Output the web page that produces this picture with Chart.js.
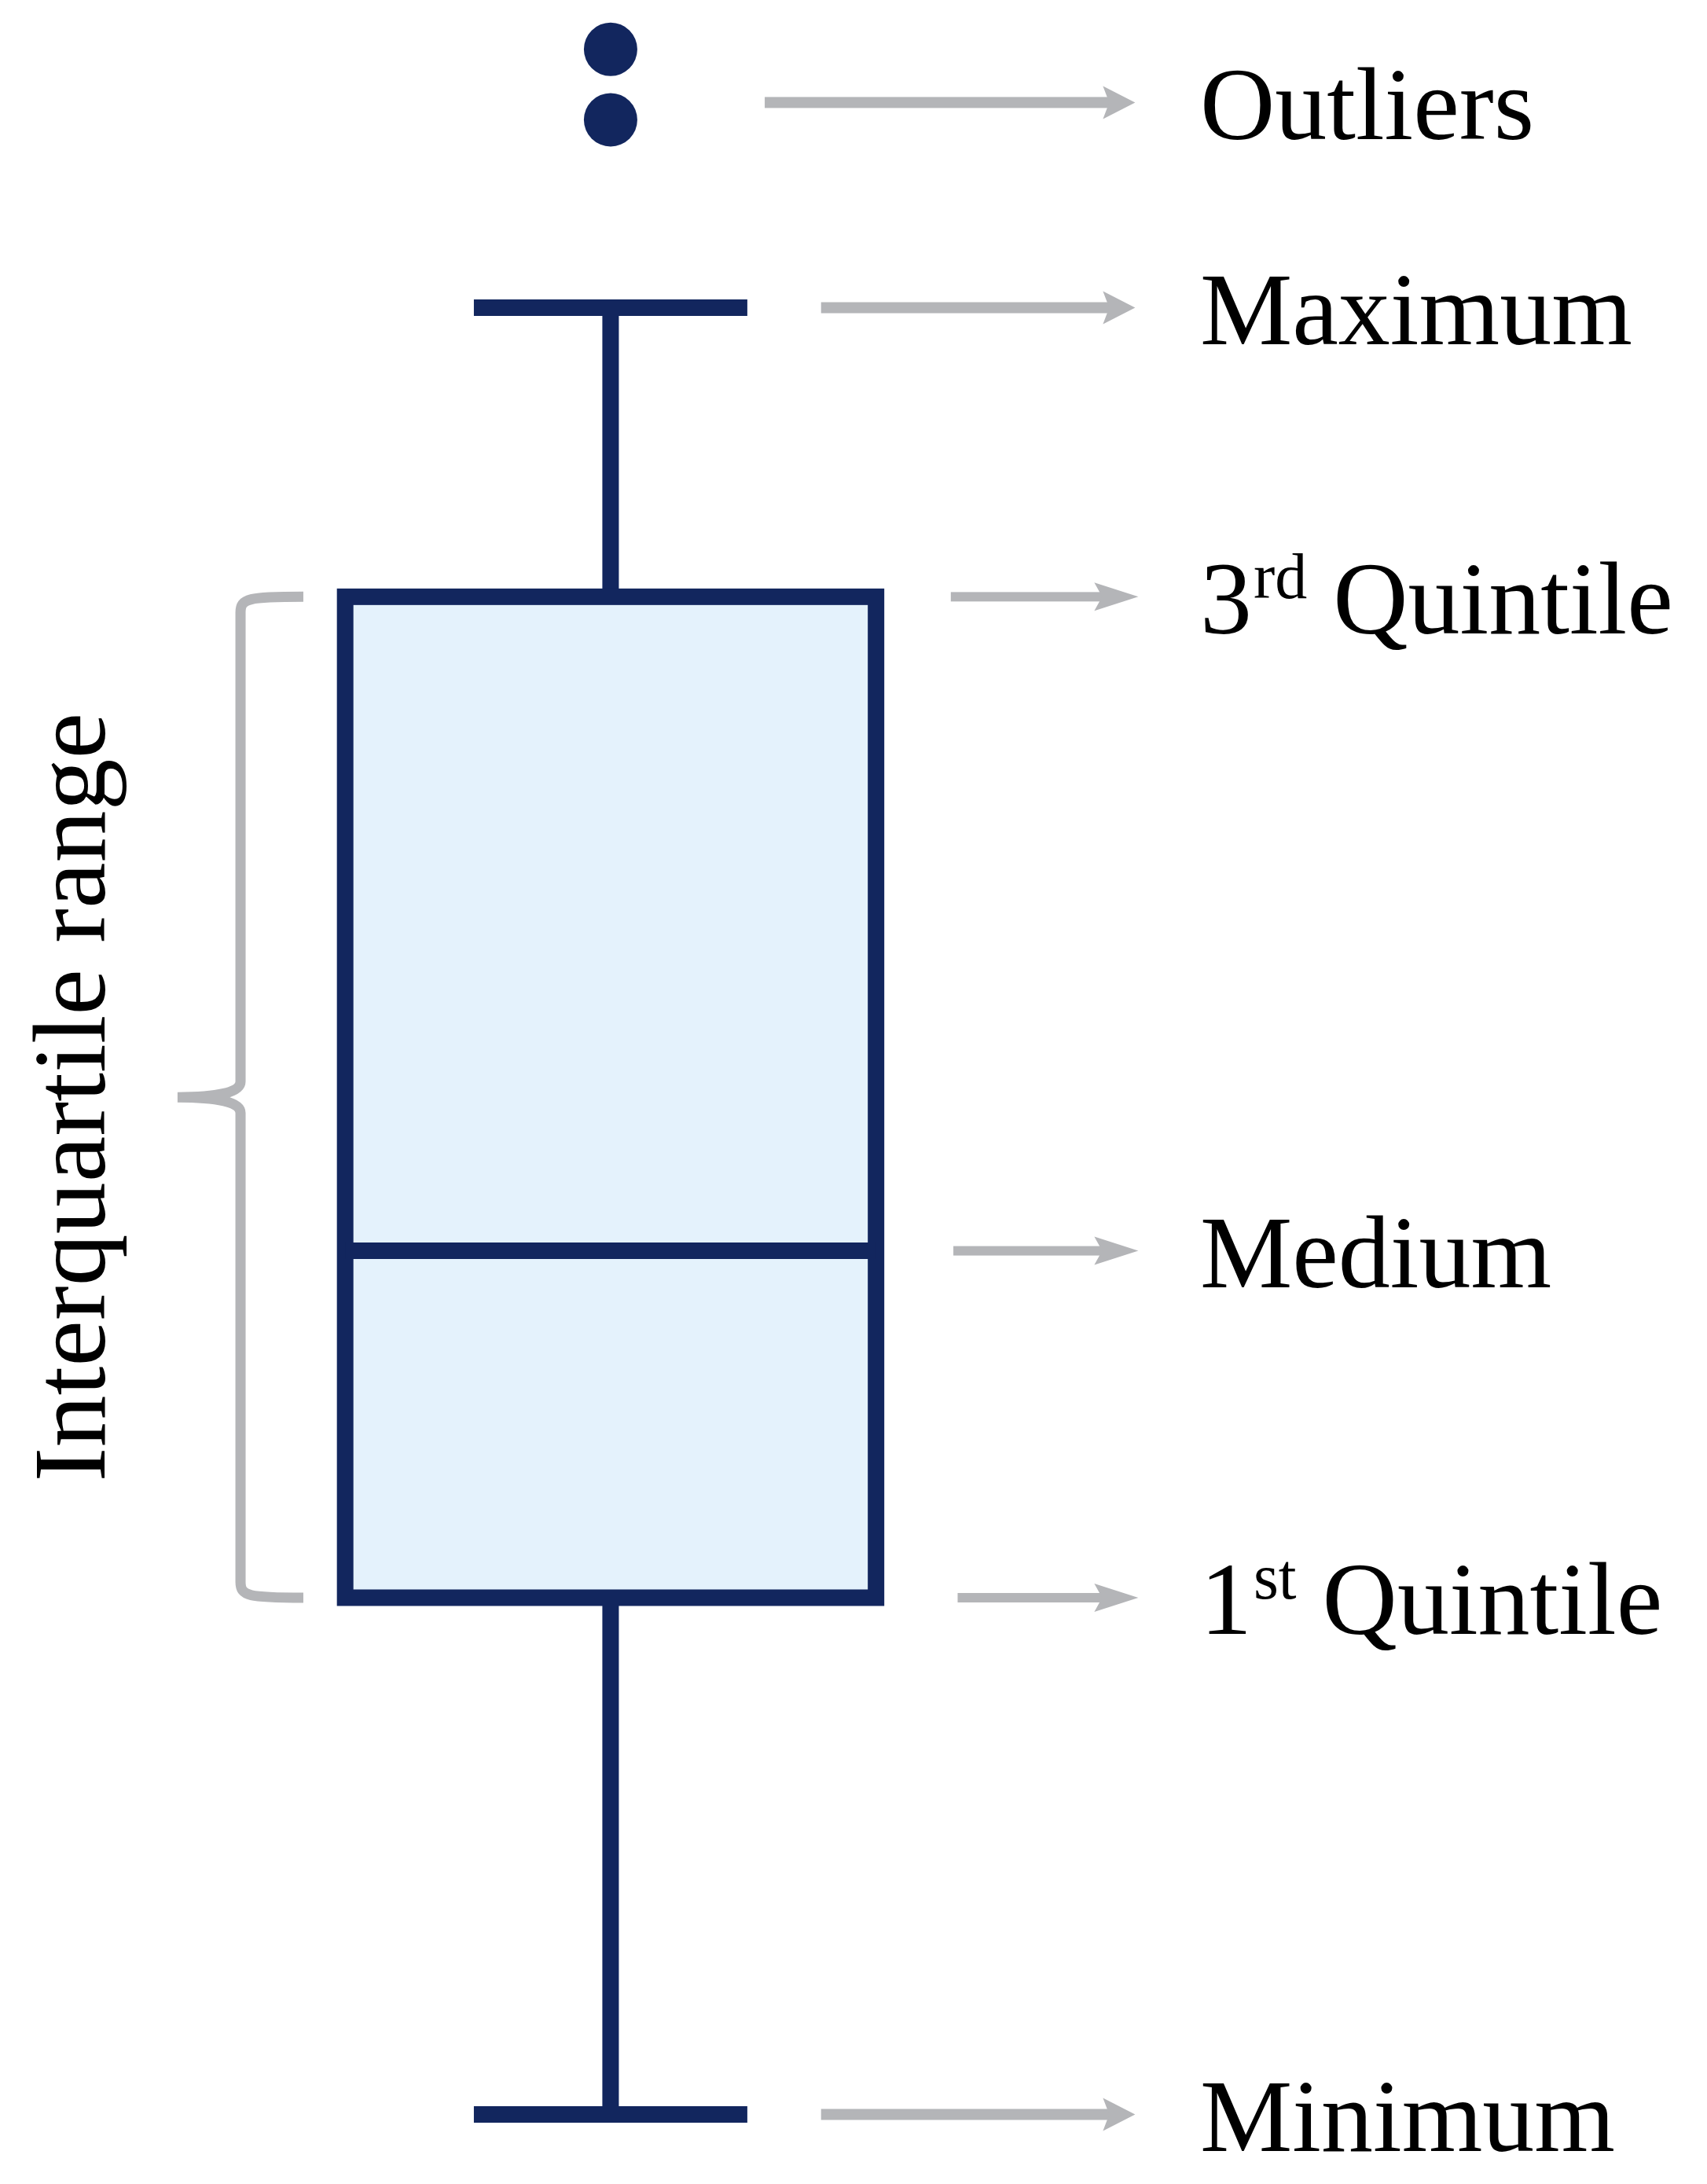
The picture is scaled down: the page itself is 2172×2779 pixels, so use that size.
<!DOCTYPE html>
<html>
<head>
<meta charset="utf-8">
<title>Box plot anatomy</title>
<script src="https://cdn.jsdelivr.net/npm/chart.js@4/dist/chart.umd.min.js"></script>
<style>
  html, body { margin: 0; padding: 0; background: #ffffff; }
  #wrap { width: 2172px; height: 2779px; }
</style>
</head>
<body>
<div id="wrap"><canvas id="box-chart" width="2172" height="2779"></canvas></div>
<script>
// --- valores do diagrama ---
const statNames = ['Minimum', '1st Quintile', 'Medium', '3rd Quintile', 'Maximum'];
const statValues = [0, 28.6, 47.8, 84, 100];
const outlierValues = [110.4, 114.3];
const outlierLabel = 'Outliers';
const rangeLabel = 'Interquartile range';

// layout (unidades do eixo x, 0..100)
const boxCenter = 35.77;
const boxHalf = 15.55;
const capHalf = 8.01;
const arrowStarts = [48.1, 56.1, 55.85, 55.7, 48.1]; // mesma ordem de statNames
const outlierArrowStart = 44.8;
const arrowTip = 66.5;
const textX = 70.3;
const braceX = 14.09, braceTipX = 10.4, braceEndX = 17.77, rangeLabelX = 6.12;

const NAVY = '#12265e';
const FILL = '#e4f2fc';
const GRAY = '#b4b5b8';
const FONT_SIZE = 132;
const FONT = '"Liberation Serif", "DejaVu Serif", serif';

function drawArrow(ctx, x0, x1, y, thin) {
    const shaft = thin ? 12 : 14;
    const len = thin ? 56 : 41;
    const half = thin ? 18 : 21;
    const notch = thin ? 46 : 33;
    ctx.fillStyle = GRAY;
    ctx.fillRect(x0, y - shaft / 2, (x1 - notch) - x0 + 1, shaft);
    ctx.beginPath();
    ctx.moveTo(x1, y);
    ctx.lineTo(x1 - len, y - half);
    ctx.lineTo(x1 - notch, y);
    ctx.lineTo(x1 - len, y + half);
    ctx.closePath();
    ctx.fill();
}

function drawLabel(ctx, text, x, y) {
    ctx.fillStyle = '#000000';
    ctx.textAlign = 'left';
    ctx.textBaseline = 'alphabetic';
    const base = y + FONT_SIZE * 0.35;
    const m = text.match(/^(\d)(st|nd|rd|th) (.*)$/);
    ctx.font = FONT_SIZE + 'px ' + FONT;
    if (!m) {
        ctx.fillText(text, x, base);
        return;
    }
    ctx.fillText(m[1], x, base);
    let cx = x + ctx.measureText(m[1]).width + 2;
    const sup = Math.round(FONT_SIZE * 0.62);
    ctx.font = sup + 'px ' + FONT;
    ctx.fillText(m[2], cx, base - FONT_SIZE * 0.34);
    cx += ctx.measureText(m[2]).width;
    ctx.font = FONT_SIZE + 'px ' + FONT;
    ctx.fillText(' ' + m[3], cx, base);
}

const boxPlugin = {
    id: 'boxDiagram',
    beforeDatasetsDraw(chart) {
        const { ctx, scales: { x, y } } = chart;
        const [vMin, vQ1, vMed, vQ3, vMax] = statValues;
        const cx = x.getPixelForValue(boxCenter);
        const left = x.getPixelForValue(boxCenter - boxHalf);
        const right = x.getPixelForValue(boxCenter + boxHalf);
        const capL = x.getPixelForValue(boxCenter - capHalf);
        const capR = x.getPixelForValue(boxCenter + capHalf);
        const yMin = y.getPixelForValue(vMin), yQ1 = y.getPixelForValue(vQ1);
        const yMed = y.getPixelForValue(vMed), yQ3 = y.getPixelForValue(vQ3);
        const yMax = y.getPixelForValue(vMax);

        ctx.save();
        ctx.strokeStyle = NAVY;
        ctx.lineCap = 'butt';
        ctx.lineWidth = 21;

        // bigodes
        ctx.beginPath();
        ctx.moveTo(cx, yMax); ctx.lineTo(cx, yQ3);
        ctx.moveTo(cx, yQ1); ctx.lineTo(cx, yMin);
        ctx.stroke();
        // tampas
        ctx.beginPath();
        ctx.moveTo(capL, yMax); ctx.lineTo(capR, yMax);
        ctx.moveTo(capL, yMin); ctx.lineTo(capR, yMin);
        ctx.stroke();

        // caixa
        ctx.fillStyle = FILL;
        ctx.fillRect(left, yQ3, right - left, yQ1 - yQ3);
        ctx.lineJoin = 'miter';
        ctx.strokeRect(left, yQ3, right - left, yQ1 - yQ3);
        ctx.beginPath();
        ctx.moveTo(left, yMed); ctx.lineTo(right, yMed);
        ctx.stroke();

        // setas + textos
        const tipPx = x.getPixelForValue(arrowTip);
        const txtPx = x.getPixelForValue(textX);
        statValues.forEach((v, i) => {
            const yy = y.getPixelForValue(v);
            const thin = i >= 1 && i <= 3;
            drawArrow(ctx, x.getPixelForValue(arrowStarts[i]), tipPx + (thin ? 4 : 0), yy, thin);
            drawLabel(ctx, statNames[i], txtPx, yy);
        });
        const yOutArrow = y.getPixelForValue(outlierValues[0]) - 22;
        drawArrow(ctx, x.getPixelForValue(outlierArrowStart), tipPx, yOutArrow, false);
        drawLabel(ctx, outlierLabel, txtPx, yOutArrow);

        // chave do intervalo interquartil
        const bx = x.getPixelForValue(braceX);
        const tx = x.getPixelForValue(braceTipX);
        const ex = x.getPixelForValue(braceEndX);
        const yc = (yQ1 + yQ3) / 2;
        ctx.strokeStyle = GRAY;
        ctx.lineWidth = 13;
        ctx.beginPath();
        ctx.moveTo(ex, yQ3);
        ctx.bezierCurveTo(bx + 10, yQ3, bx, yQ3 + 2, bx, yQ3 + 20);
        ctx.lineTo(bx, yc - 20);
        ctx.bezierCurveTo(bx, yc - 6, bx - 30, yc, tx, yc);
        ctx.bezierCurveTo(bx - 30, yc, bx, yc + 6, bx, yc + 20);
        ctx.lineTo(bx, yQ1 - 20);
        ctx.bezierCurveTo(bx, yQ1 - 2, bx + 10, yQ1, ex, yQ1);
        ctx.stroke();

        ctx.save();
        ctx.translate(x.getPixelForValue(rangeLabelX), yc);
        ctx.rotate(-Math.PI / 2);
        ctx.fillStyle = '#000000';
        ctx.font = FONT_SIZE + 'px ' + FONT;
        ctx.textAlign = 'center';
        ctx.textBaseline = 'alphabetic';
        ctx.fillText(rangeLabel, 0, 0);
        ctx.restore();

        ctx.restore();
    }
};

const ctx = document.getElementById('box-chart');
new Chart(ctx, {
    type: 'scatter',
    data: {
        datasets: [{
            label: outlierLabel,
            data: outlierValues.map(v => ({ x: boxCenter, y: v })),
            backgroundColor: NAVY,
            borderColor: NAVY,
            borderWidth: 0,
            pointRadius: 34,
            pointHoverRadius: 34
        }]
    },
    options: {
        responsive: false,
        devicePixelRatio: 1,
        animation: false,
        layout: { padding: 0, autoPadding: false },
        plugins: {
            legend: { display: false },
            tooltip: { enabled: false }
        },
        scales: {
            x: { type: 'linear', min: 0, max: 100, display: false },
            y: { type: 'linear', min: -3.85, max: 117.03, display: false }
        }
    },
    plugins: [boxPlugin]
});
</script>
</body>
</html>
